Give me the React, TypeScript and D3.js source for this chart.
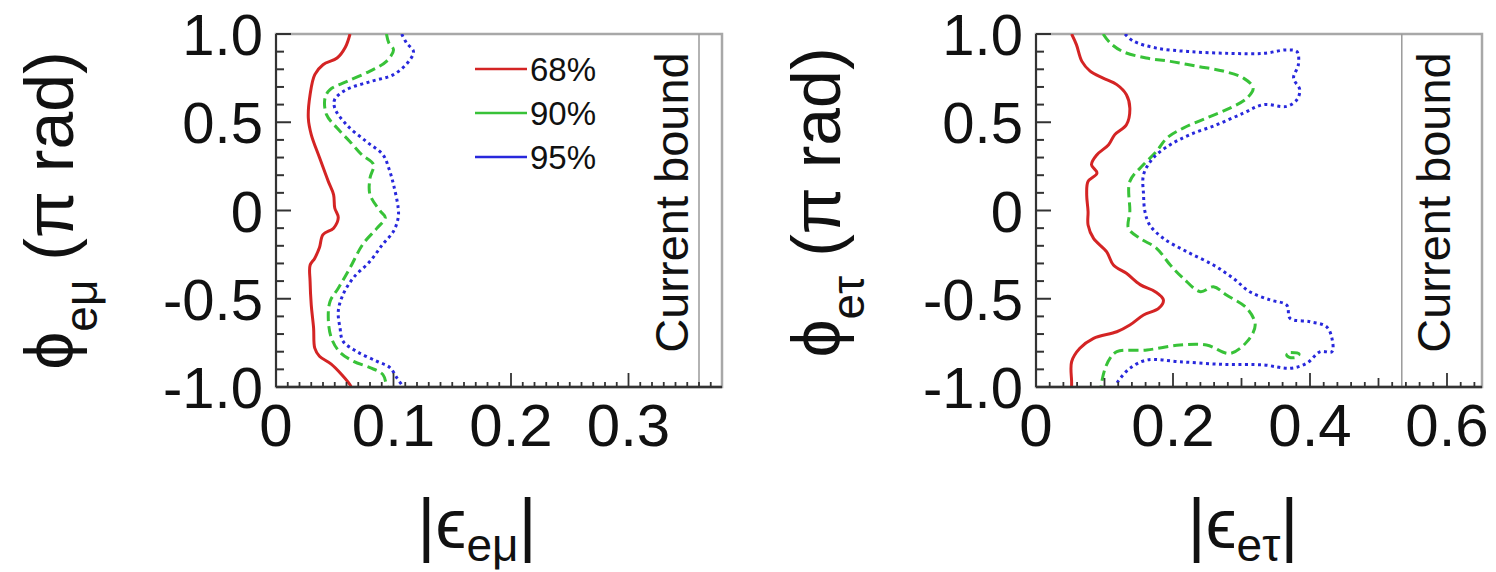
import React, { useRef, useEffect } from 'react';
import * as d3 from 'd3';

type Pt = [number, number]; // [|eps|, phi (pi rad)]

const levels = ['68%', '90%', '95%'];
const levelColors = ['#d42424', '#38c238', '#2828dc'];

const phiTicks = [-1.0, -0.5, 0, 0.5, 1.0];
const phiTickLabels = ['-1.0', '-0.5', '0', '0.5', '1.0'];
const emuTicks = [0, 0.1, 0.2, 0.3];
const emuTickLabels = ['0', '0.1', '0.2', '0.3'];
const etauTicks = [0, 0.2, 0.4, 0.6];
const etauTickLabels = ['0', '0.2', '0.4', '0.6'];

const emuBound = 0.36;
const etauBound = 0.534;

// left panel: e-mu contours
const emu68: Pt[] = [
  [0.063, 1.0], [0.059, 0.925], [0.052, 0.864], [0.040, 0.826], [0.033, 0.77],
  [0.029, 0.656], [0.0275, 0.524], [0.030, 0.43], [0.037, 0.30], [0.0445, 0.165],
  [0.049, 0.09], [0.050, 0.014], [0.053, -0.04], [0.049, -0.10], [0.040, -0.137],
  [0.037, -0.21], [0.033, -0.27], [0.029, -0.31], [0.029, -0.40], [0.030, -0.535],
  [0.032, -0.666], [0.033, -0.78], [0.037, -0.826], [0.047, -0.87], [0.056, -0.93],
  [0.063, -0.987], [0.064, -1.0],
];
const emu90: Pt[] = [
  [0.094, 1.0], [0.096, 0.95], [0.100, 0.91], [0.094, 0.845], [0.080, 0.79],
  [0.060, 0.73], [0.046, 0.685], [0.0417, 0.637], [0.043, 0.543], [0.052, 0.467],
  [0.063, 0.39], [0.073, 0.316], [0.083, 0.26], [0.080, 0.184], [0.080, 0.09],
  [0.089, -0.005], [0.093, -0.04], [0.086, -0.10], [0.074, -0.19], [0.063, -0.325],
  [0.053, -0.44], [0.046, -0.515], [0.0445, -0.61], [0.047, -0.72], [0.054, -0.80],
  [0.066, -0.855], [0.080, -0.89], [0.091, -0.93], [0.094, -0.987], [0.095, -1.0],
];
const emu95: Pt[] = [
  [0.107, 1.0], [0.111, 0.95], [0.117, 0.90], [0.113, 0.845], [0.100, 0.77],
  [0.080, 0.73], [0.060, 0.685], [0.050, 0.63], [0.050, 0.58], [0.060, 0.486],
  [0.077, 0.39], [0.091, 0.316], [0.096, 0.24], [0.100, 0.147], [0.104, 0.014],
  [0.104, -0.04], [0.100, -0.118], [0.091, -0.19], [0.080, -0.288], [0.066, -0.38],
  [0.057, -0.477], [0.053, -0.57], [0.0545, -0.666], [0.057, -0.74], [0.069, -0.80],
  [0.086, -0.855], [0.097, -0.89], [0.103, -0.95], [0.107, -0.987], [0.108, -1.0],
];

// right panel: e-tau contours
const etau68: Pt[] = [
  [0.052, 1.0], [0.059, 0.94], [0.067, 0.845], [0.079, 0.79], [0.098, 0.75],
  [0.118, 0.713], [0.132, 0.656], [0.137, 0.58], [0.132, 0.486], [0.115, 0.43],
  [0.106, 0.373], [0.089, 0.316], [0.081, 0.26], [0.089, 0.212], [0.076, 0.165],
  [0.074, 0.09], [0.076, -0.005], [0.076, -0.082], [0.084, -0.158], [0.103, -0.233],
  [0.113, -0.309], [0.132, -0.356], [0.152, -0.42], [0.174, -0.46], [0.186, -0.507],
  [0.179, -0.555], [0.157, -0.592], [0.137, -0.649], [0.118, -0.687], [0.084, -0.724],
  [0.064, -0.781], [0.052, -0.857], [0.052, -0.97], [0.052, -1.0],
];
const etau90: Pt[] = [
  [0.098, 1.0], [0.108, 0.95], [0.127, 0.90], [0.161, 0.864], [0.196, 0.845],
  [0.235, 0.817], [0.273, 0.79], [0.303, 0.75], [0.317, 0.694], [0.308, 0.637],
  [0.283, 0.58], [0.249, 0.524], [0.215, 0.467], [0.191, 0.41], [0.176, 0.335],
  [0.157, 0.26], [0.137, 0.165], [0.137, -0.005], [0.135, -0.101], [0.152, -0.158],
  [0.176, -0.214], [0.196, -0.309], [0.215, -0.384], [0.240, -0.46], [0.259, -0.432],
  [0.278, -0.479], [0.308, -0.555], [0.320, -0.649], [0.308, -0.743], [0.283, -0.81],
  [0.249, -0.762], [0.210, -0.762], [0.162, -0.79], [0.118, -0.80], [0.108, -0.838],
  [0.101, -0.894], [0.096, -0.97], [0.095, -1.0],
];
const etau90Island: Pt[] = [
  [0.372, -0.805], [0.384, -0.812], [0.381, -0.83], [0.370, -0.832], [0.366, -0.818], [0.372, -0.805],
];
const etau95: Pt[] = [
  [0.130, 1.0], [0.142, 0.96], [0.176, 0.92], [0.225, 0.90], [0.283, 0.89],
  [0.332, 0.89], [0.366, 0.91], [0.381, 0.90], [0.383, 0.826], [0.376, 0.75],
  [0.385, 0.685], [0.381, 0.628], [0.366, 0.59], [0.332, 0.60], [0.303, 0.552],
  [0.264, 0.486], [0.225, 0.43], [0.196, 0.373], [0.171, 0.297], [0.157, 0.203],
  [0.157, 0.09], [0.159, -0.005], [0.166, -0.082], [0.186, -0.158], [0.220, -0.233],
  [0.259, -0.309], [0.288, -0.384], [0.312, -0.46], [0.342, -0.507], [0.366, -0.536],
  [0.371, -0.611], [0.400, -0.63], [0.424, -0.658], [0.432, -0.724], [0.432, -0.80],
  [0.415, -0.80], [0.395, -0.866], [0.371, -0.894], [0.332, -0.875], [0.273, -0.872],
  [0.210, -0.857], [0.162, -0.847], [0.137, -0.894], [0.123, -0.951], [0.118, -0.98], [0.117, -1.0],
];

const FONT = "'Liberation Sans', Arial, 'DejaVu Sans', sans-serif";
const dashes = [null, '10,5', '3,3.5'];
const widths = [3, 3, 3];

const drawPanel = (svg, o) => {
  const top = 34;
  const bottom = 387;
  const right = o.left + 446;
  const x = d3.scaleLinear().domain([0, o.xMax]).range([o.left, right]);
  const y = d3.scaleLinear().domain([-1, 1]).range([bottom, top]);
  const g = svg.append('g');

  // frame
  g.append('rect')
    .attr('x', o.left).attr('y', top)
    .attr('width', right - o.left).attr('height', bottom - top)
    .attr('fill', 'none').attr('stroke', '#a8a8a8').attr('stroke-width', 2.5);

  // current bound
  g.append('line')
    .attr('x1', x(o.bound)).attr('x2', x(o.bound))
    .attr('y1', top).attr('y2', bottom)
    .attr('stroke', '#9a9a9a').attr('stroke-width', 1.5);
  g.append('text')
    .attr('transform', `translate(${x(o.bound) + o.boundTextDx},${(top + bottom) / 2 - 8}) rotate(-90)`)
    .attr('text-anchor', 'middle')
    .attr('font-family', FONT).attr('font-size', 47).attr('fill', '#111')
    .text('Current bound');

  // contours
  const clipId = `clip-${o.id}`;
  svg.append('clipPath').attr('id', clipId)
    .append('rect').attr('x', o.left).attr('y', top)
    .attr('width', right - o.left).attr('height', bottom - top);
  const line = d3.line<Pt>()
    .x(d => x(d[0]))
    .y(d => y(d[1]))
    .curve(d3.curveCatmullRom.alpha(0.5));
  o.curves.forEach(c => {
    g.append('path')
      .datum(c.data)
      .attr('clip-path', `url(#${clipId})`)
      .attr('fill', 'none')
      .attr('stroke', levelColors[c.level])
      .attr('stroke-width', widths[c.level])
      .attr('stroke-dasharray', dashes[c.level])
      .attr('stroke-linejoin', 'round')
      .attr('d', line);
  });

  // y ticks (inward)
  d3.range(-10, 11).forEach(i => {
    const len = i % 5 === 0 ? 15 : 8;
    g.append('line')
      .attr('x1', o.left).attr('x2', o.left + len)
      .attr('y1', y(i / 10)).attr('y2', y(i / 10))
      .attr('stroke', '#333').attr('stroke-width', 2);
  });
  // x ticks (inward)
  const nMinor = Math.floor(o.xMax / o.minorStep + 1e-6);
  d3.range(0, nMinor + 1).forEach(i => {
    const v = i * o.minorStep;
    const isMajor = Math.abs(v / o.majorStep - Math.round(v / o.majorStep)) < 1e-6;
    const isMid = Math.abs(v / 0.1 - Math.round(v / 0.1)) < 1e-6;
    const len = isMajor ? 14 : isMid ? 9 : 5;
    g.append('line')
      .attr('x1', x(v)).attr('x2', x(v))
      .attr('y1', bottom).attr('y2', bottom - len)
      .attr('stroke', '#333').attr('stroke-width', 1.8);
  });

  // axis lines
  g.append('line').attr('x1', o.left).attr('x2', o.left).attr('y1', top).attr('y2', bottom)
    .attr('stroke', '#333').attr('stroke-width', 2);
  g.append('line').attr('x1', o.left).attr('x2', right).attr('y1', bottom).attr('y2', bottom)
    .attr('stroke', '#333').attr('stroke-width', 2.5);

  // tick labels
  phiTicks.forEach((v, i) => {
    g.append('text')
      .attr('x', o.left - 13).attr('y', y(v) + 21)
      .attr('text-anchor', 'end')
      .attr('font-family', FONT).attr('font-size', 58).attr('fill', '#111')
      .text(phiTickLabels[i]);
  });
  o.xTicks.forEach((v, i) => {
    g.append('text')
      .attr('x', x(v)).attr('y', 446)
      .attr('text-anchor', 'middle')
      .attr('font-family', FONT).attr('font-size', 60).attr('fill', '#111')
      .text(o.xTickLabels[i]);
  });

  // y title
  const yt = g.append('text')
    .attr('transform', `translate(${o.yTitleX},${(top + bottom) / 2 + o.yTitleDy}) rotate(-90)`)
    .attr('text-anchor', 'middle')
    .attr('font-family', FONT).attr('font-size', 68).attr('fill', '#111');
  yt.append('tspan').text('ϕ');
  yt.append('tspan').attr('font-size', 46).attr('dy', 24).text(o.sub);
  yt.append('tspan').attr('dy', -24).text('\u00a0(π rad)');

  // x title
  const xt = g.append('text')
    .attr('x', (o.left + right) / 2 + o.xTitleDx).attr('y', 548)
    .attr('text-anchor', 'middle')
    .attr('font-family', FONT).attr('font-size', 70).attr('fill', '#111');
  xt.append('tspan').text('|ϵ');
  xt.append('tspan').attr('font-size', 46).attr('dy', 13).text(o.sub);
  xt.append('tspan').attr('dy', -13).text('|');

  // legend
  if (o.legend) {
    levels.forEach((lab, i) => {
      const ly = 69 + i * 44;
      g.append('line')
        .attr('x1', 475).attr('x2', 527).attr('y1', ly).attr('y2', ly)
        .attr('stroke', levelColors[i]).attr('stroke-width', 2.5);
      g.append('text')
        .attr('x', 530).attr('y', ly + 12)
        .attr('font-family', FONT).attr('font-size', 33).attr('fill', '#111')
        .text(lab);
    });
  }
};

const App = () => {
  const svgRef = useRef(null);

  useEffect(() => {
    const svg = d3.select(svgRef.current);
    svg.selectAll('*').remove();

    drawPanel(svg, {
      id: 'emu', left: 276, xMax: 446 / 1175, bound: emuBound, boundTextDx: -11,
      xTicks: emuTicks, xTickLabels: emuTickLabels,
      minorStep: 0.01, majorStep: 0.1,
      sub: 'eμ', yTitleX: 73, yTitleDy: 0, xTitleDx: -22, legend: true,
      curves: [
        { level: 0, data: emu68 },
        { level: 1, data: emu90 },
        { level: 2, data: emu95 },
      ],
    });
    drawPanel(svg, {
      id: 'etau', left: 1036, xMax: 446 / 685, bound: etauBound, boundTextDx: 48,
      xTicks: etauTicks, xTickLabels: etauTickLabels,
      minorStep: 0.02, majorStep: 0.2,
      sub: 'eτ', yTitleX: 840, yTitleDy: -8, xTitleDx: -16, legend: false,
      curves: [
        { level: 0, data: etau68 },
        { level: 1, data: etau90 },
        { level: 1, data: etau90Island },
        { level: 2, data: etau95 },
      ],
    });
  }, []);

  return (
    <svg
      ref={svgRef}
      width={1496}
      height={572}
      style={{ position: 'absolute', left: 0, top: 0, background: '#fff' }}
    />
  );
};

export default App;
